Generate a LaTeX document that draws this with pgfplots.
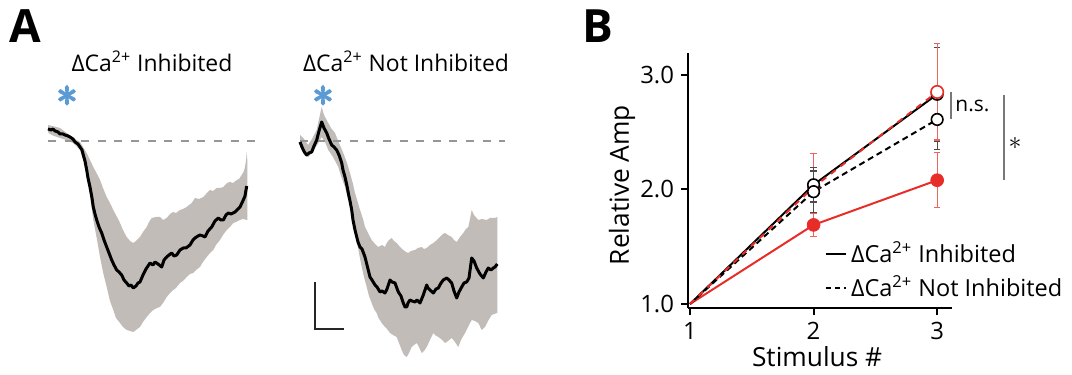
\documentclass[border=0pt]{standalone}
\usepackage{fontspec}
\setmainfont{Open Sans}
\usepackage{pgfplots}
\pgfplotsset{compat=1.18}
\definecolor{band}{RGB}{194,188,185}
\definecolor{ablue}{RGB}{91,155,213}
\definecolor{bred}{RGB}{232,45,40}
\definecolor{ebred}{RGB}{236,100,90}
\definecolor{basegray}{RGB}{150,150,150}
\definecolor{anngray}{RGB}{120,120,120}
\newcommand{\dca}{ΔCa\textsuperscript{2+}}
\newcommand{\bast}{\ensuremath{\ast}}
\newcommand{\thickast}{\special{pdf:literal direct 2 Tr 0.45 w}\ensuremath{\ast}\special{pdf:literal direct 0 Tr}}
\begin{document}
\begin{tikzpicture}
\useasboundingbox (0,0) rectangle (536bp,187.5bp);
% ---------------- Panel A, left trace
\begin{axis}[at={(0bp,0bp)}, anchor=south west, scale only axis,
  width=135bp, height=187.5bp, xmin=-48, xmax=222, ymin=-234, ymax=141,
  hide axis, clip=false]
\addplot[fill=band, draw=none] coordinates {
 (0,16) (12,13) (20,7) (25.3,3) (32,-1) (35,-6) (38.7,-12) (42,-19) (45.3,-26) (49,-33) (52,-39) (55,-47) (58.7,-56) (62,-62) (65.3,-69) (69,-76) (72,-82) (75,-89) (78.7,-96) (82,-100) (85.3,-102) (88,-100) (92,-96) (95,-91) (98.7,-86) (101,-81) (103.7,-77) (108,-76) (112,-76) (115,-79) (118.7,-77) (122,-73) (125.3,-71) (128,-72) (132,-69) (135,-68) (138.7,-66) (141,-64) (143.7,-62) (147,-57) (151,-58) (155.3,-56) (158,-53) (162,-49) (165,-50) (168.7,-47) (172,-47) (175.3,-46) (179,-42) (182,-41) (185,-42) (188.7,-39) (191,-38) (193.7,-34) (196,-30) (197,-26) (198.2,-18) (198.7,-11) (199.3,-19)
 (199.3,-79) (195,-78) (192,-79) (188,-81) (185.3,-82) (182,-86) (178.7,-89) (175,-94) (172,-99) (168,-104) (165.3,-109) (162,-112) (158.7,-116) (155,-121) (152,-126) (148,-129) (145.3,-132) (142,-133) (138.7,-136) (135,-140) (132,-142) (128,-147) (125.3,-149) (122,-152) (118.7,-156) (115,-162) (112,-166) (109,-167) (105.3,-169) (102,-172) (98.7,-176) (95,-181) (92,-186) (88,-189) (85.3,-191) (82,-190) (78.7,-189) (75,-186) (72,-182) (68,-177) (65.3,-169) (62,-160) (58.7,-146) (55,-131) (52,-116) (48.7,-97) (45.3,-79) (42,-54) (40,-42) (38.7,-34) (36,-22) (34,-15) (32,-9) (28,-5) (25.3,-2) (18,1) (12,3) (6,5) (0.3,8)
} -- cycle;
\addplot[basegray, line width=1bp, dash pattern=on 4bp off 4.3bp] coordinates {(0,0) (207,0)};
\addplot[black, line width=1.5bp, line join=round] coordinates {
 (0,12) (3,11) (5,12) (7,10) (10,9) (12,7) (15,7) (17,6) (20,5) (22,4) (25,2) (27,-1) (30,-3) (32,-6) (34,-9) (35.3,-14) (37,-20) (38.7,-29) (40,-37) (42,-46) (44,-57) (45.3,-66) (47,-73) (48.7,-79) (51,-86) (53.7,-92) (56,-99) (58.7,-106) (61,-112) (63.7,-119) (66,-124) (68.7,-129) (71,-131) (73.7,-134) (76,-139) (78.7,-142) (81,-145) (83,-144) (85.3,-147) (88,-145) (90,-142) (92,-141) (95,-134) (98,-128) (100,-125) (102,-122) (105,-124) (107,-121) (110,-123) (113.7,-126) (116,-119) (118.7,-116) (121,-114) (123.7,-112) (126,-115) (128.7,-114) (132,-109) (135.3,-107) (138,-107) (142,-104) (145,-99) (147,-97) (150,-95) (152,-94) (155,-95) (157,-96) (160,-90) (163.7,-86) (167,-80) (170.3,-77) (173,-79) (175.3,-79) (178,-74) (180.3,-72) (183,-73) (187,-71) (190,-68) (192,-66) (195.3,-59) (197,-55) (198.7,-45)
};
\end{axis}
% ---------------- Panel A, right trace
\begin{axis}[at={(135bp,0bp)}, anchor=south west, scale only axis,
  width=135bp, height=187.5bp, xmin=-30, xmax=240, ymin=-234, ymax=141,
  hide axis, clip=false]
\addplot[fill=band, draw=none] coordinates {
 (0,6) (4,2) (8,-4) (12,2) (16.7,11) (19,22) (21.7,34) (24,26) (28.3,18) (31,13) (35,8) (39,-2) (43.3,-12) (47,-22) (50,-32) (53,-43) (55,-52) (58,-62) (60,-69) (63,-78) (65,-86) (68,-92) (71.7,-99) (75,-103) (78.3,-106) (82,-104) (85,-106) (86.7,-102) (89,-99) (91.7,-97) (94,-100) (96.7,-102) (100,-106) (103.3,-109) (106,-111) (108.3,-112) (111,-110) (115,-109) (118,-107) (121.7,-106) (124,-108) (126.7,-107) (130,-104) (133.3,-102) (137,-99) (140,-96) (143,-93) (145,-92) (148,-94) (151.7,-96) (154,-99) (156.7,-101) (160,-96) (163.3,-92) (166,-88) (168.3,-86) (170,-78) (171.7,-69) (174,-74) (178.3,-79) (182,-78) (186.7,-79) (190,-77) (195,-77) (197.3,-76)
 (197.3,-172) (194,-173) (191.7,-174) (188,-180) (185,-186) (181.7,-189) (178.3,-182) (175,-180) (171.7,-179) (168,-186) (165,-192) (161,-199) (158.3,-206) (155,-201) (151.7,-197) (148,-200) (145,-202) (141,-198) (138.3,-196) (135,-194) (133.3,-192) (130,-199) (126.7,-206) (124,-210) (121.7,-212) (119,-206) (116.7,-202) (114,-204) (111.7,-206) (109,-212) (106.7,-216) (104,-214) (101.7,-209) (99,-202) (96.7,-196) (93,-194) (90,-192) (87,-188) (85,-186) (81.7,-182) (78,-176) (76.7,-172) (74,-168) (71.7,-162) (69,-155) (66.7,-146) (64,-136) (61.7,-126) (59,-112) (56.7,-99) (54,-86) (51.7,-72) (48,-58) (45,-46) (41,-35) (38.3,-26) (33,-16) (28.3,-9) (25,-1) (21.7,4) (18.3,-2) (14,-9) (10,-14) (8.3,-16) (4,-11) (0,-6)
} -- cycle;
\addplot[basegray, line width=1bp, dash pattern=on 4bp off 4.3bp] coordinates {(0,0) (205,0)};
\addplot[black, line width=1.5bp, line join=round] coordinates {
 (0,-1) (2,-6) (3.3,-9) (5,-12) (6.7,-14) (9,-12) (11.7,-11) (14,-5) (16.7,1) (19,10) (21.7,19) (24,13) (26.7,8) (29,2) (31.7,-4) (34,-6) (36.7,-9) (39,-14) (41.7,-22) (43,-29) (45,-36) (47,-45) (48.3,-52) (50,-60) (51.7,-69) (53,-79) (55,-89) (57,-97) (58,-101) (60,-106) (62,-108) (65,-116) (67,-124) (70,-136) (72,-139) (75,-144) (77,-146) (80,-151) (82,-150) (85,-152) (87,-148) (90,-139) (92,-141) (95,-142) (98.3,-151) (101,-155) (103.3,-162) (105,-166) (106.7,-166) (108,-162) (110,-159) (112,-160) (115,-161) (117,-159) (120,-162) (123.3,-154) (125,-149) (126.7,-144) (128,-147) (130,-149) (133.3,-152) (136,-148) (138.3,-147) (141,-142) (143.3,-139) (146.7,-137) (149,-139) (151.7,-142) (154,-150) (156.7,-157) (159,-151) (161.7,-146) (164,-142) (166.7,-141) (169,-137) (171.7,-117) (174,-120) (176.7,-127) (180,-133) (183.3,-137) (186,-131) (188.3,-127) (191,-129) (193.3,-127) (195,-126) (197.3,-123)
};
% scale bar
\addplot[black!85, line width=1bp] coordinates {(15,-141) (15,-188) (44,-188)};
\end{axis}
% ---------------- Panel B
\begin{axis}[at={(344bp,33.5bp)}, anchor=south west, scale only axis,
  width=132bp, height=127.5bp,
  xmin=0.984, xmax=3.12, ymin=0.965, ymax=3.19,
  axis lines=left, axis line style={-, line width=1bp},
  xtick={1,2,3}, ytick={1,2,3},
  tick align=outside, major tick length=3.5bp,
  tick style={line width=1bp, black},
  /pgf/number format/assume math mode=true,
  tick label style={font=\fontsize{12}{12}\selectfont},
  y tick label style={/pgf/number format/.cd, fixed, fixed zerofill, precision=1},
  xlabel={Stimulus \#}, ylabel={Relative Amp},
  label style={font=\fontsize{13.2}{14}\selectfont},
  xlabel style={at={(axis description cs:0.489,-0.192)}, anchor=center},
  ylabel style={at={(axis description cs:-0.25,0.482)}, anchor=center},
  clip=false,
  legend cell align=left,
  legend image code/.code={\draw[#1] (0bp,0bp) -- (10bp,0bp);},
  legend style={at={(axis cs:2.09,1.58)}, anchor=north west, draw=none, fill=none,
    font=\fontsize{11.8}{13}\selectfont, inner sep=0pt, row sep=1.2bp},
]
\addlegendimage{black, line width=1bp}
\addlegendentry{\dca{} Inhibited}
\addlegendimage{black, line width=1bp, dash pattern=on 2.5bp off 2bp}
\addlegendentry{\dca{} Not Inhibited}
% lines
\addplot[bred, line width=1bp] coordinates {(1,1) (2,1.69) (3,2.08)};
\addplot[black, line width=1bp, dash pattern=on 3bp off 2bp] coordinates {(1,1) (2,1.98) (3,2.61)};
\addplot[black, line width=1bp] coordinates {(1,1) (2,2.04) (3,2.83)};
\addplot[bred, line width=1bp, dash pattern=on 3bp off 3bp] coordinates {(1,1) (2,2.02) (3,2.85)};
% markers with error bars
\addplot[only marks, mark=*, mark size=3.2bp, mark options={fill=bred, draw=bred},
  error bars/.cd, y dir=both, y explicit,
  error bar style={ebred, line width=0.6bp},
  error mark options={ebred, line width=0.6bp, mark size=1.6bp, rotate=90}]
  coordinates {(2,1.69) +- (0,0.10) (3,2.08) +- (0,0.24)};
\addplot[only marks, mark=*, mark size=2.9bp, mark options={fill=white, draw=bred, line width=0.8bp},
  error bars/.cd, y dir=both, y explicit,
  error bar style={ebred, line width=0.6bp},
  error mark options={ebred, line width=0.6bp, mark size=1.6bp, rotate=90}]
  coordinates {(2,2.02) +- (0,0.29)};
\addplot[only marks, mark=*, mark size=2.9bp, mark options={fill=white, draw=black, line width=0.8bp},
  error bars/.cd, y dir=both, y explicit,
  error bar style={black!70, line width=0.6bp},
  error mark options={black!70, line width=0.6bp, mark size=1.6bp, rotate=90}]
  coordinates {(2,2.04) +- (0,0.15) (3,2.83) +- (0,0.41)};
\addplot[only marks, mark=*, mark size=2.9bp, mark options={fill=white, draw=black, line width=0.8bp},
  error bars/.cd, y dir=both, y explicit,
  error bar style={black!70, line width=0.6bp},
  error mark options={black!70, line width=0.6bp, mark size=1.6bp, rotate=90}]
  coordinates {(2,1.98) +- (0,0.18) (3,2.61) +- (0,0.26)};
\addplot[only marks, mark=*, mark size=3.1bp, mark options={fill=white, draw=bred, line width=0.8bp},
  error bars/.cd, y dir=both, y explicit,
  error bar style={ebred, line width=0.6bp},
  error mark options={ebred, line width=0.6bp, mark size=1.6bp, rotate=90}]
  coordinates {(3,2.85) +- (0,0.42)};
\end{axis}
% ---------------- text annotations
\node[font=\fontsize{23}{23}\selectfont\bfseries] at (12.75bp,174.5bp) {A};
\node[font=\fontsize{23}{23}\selectfont\bfseries] at (299bp,174.5bp) {B};
\node[inner sep=0pt, font=\fontsize{11.5}{13}\selectfont] at (76bp,157bp) {\dca{} Inhibited};
\node[inner sep=0pt, font=\fontsize{11.5}{13}\selectfont] at (203bp,157bp) {\dca{} Not Inhibited};
\node[text=ablue, inner sep=0pt, scale=2.1] at (33.5bp,139.5bp) {\thickast};
\node[text=ablue, inner sep=0pt, scale=2.1] at (161.5bp,139.5bp) {\thickast};
\draw[anngray, line width=0.6bp] (475.5bp,141.5bp) -- (475.5bp,128bp);
\node[anchor=west, inner sep=0pt, font=\fontsize{10.5}{12}\selectfont] at (477.5bp,134.5bp) {n.s.};
\draw[anngray, line width=0.6bp] (502bp,140bp) -- (502bp,97.5bp);
\node[inner sep=0pt, scale=1.3] at (507.5bp,116bp) {\bast};
\end{tikzpicture}
\end{document}
